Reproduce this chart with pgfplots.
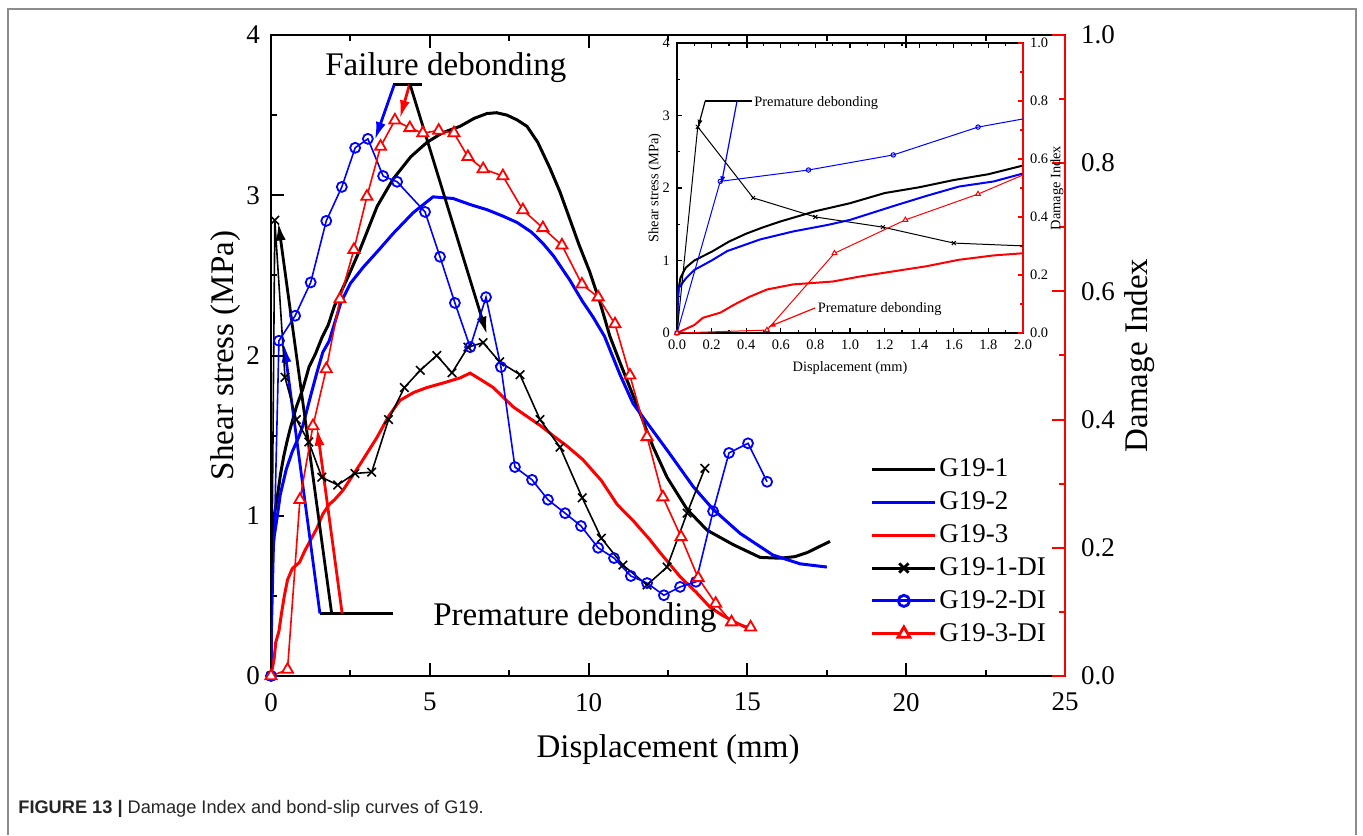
\documentclass[border=0pt]{standalone}
\usepackage{pgfplots}
\pgfplotsset{compat=1.18}
\usepackage{pgfplotstable}
\usepackage{fontspec}
\setmainfont{Liberation Serif}
\setsansfont{Liberation Sans}
\usetikzlibrary{arrows.meta}

% ---------- stress curves (mm, MPa) ----------
\pgfplotstableread{
x y
0 0
0.005 0.45
0.01 0.62
0.02 0.76
0.05 0.9
0.1 1.0
0.2 1.12
0.3 1.26
0.4 1.37
0.5 1.46
0.6 1.54
0.8 1.68
1.0 1.79
1.2 1.93
1.4 2.01
1.6 2.11
1.8 2.19
2.0 2.31
2.4 2.48
2.8 2.66
3.34 2.93
3.84 3.10
4.4 3.24
4.91 3.33
5.4 3.39
5.95 3.43
6.4 3.48
6.8 3.51
7.1 3.515
7.43 3.50
7.75 3.47
8.06 3.43
8.4 3.33
8.78 3.17
9.1 3.02
9.41 2.85
9.7 2.69
10.04 2.52
10.36 2.33
10.67 2.12
11.0 1.95
11.2 1.85
11.62 1.64
12.03 1.43
12.47 1.24
13.1 1.04
13.73 0.91
14.55 0.82
15.4 0.74
16.03 0.735
16.5 0.745
16.88 0.77
17.6 0.84
}\gone

\pgfplotstableread{
x y
0 0
0.005 0.5
0.01 0.62
0.05 0.75
0.1 0.87
0.2 1.0
0.29 1.13
0.48 1.29
0.67 1.40
0.87 1.49
1.0 1.56
1.25 1.75
1.44 1.89
1.63 2.02
1.83 2.09
2.0 2.2
2.2 2.33
2.5 2.45
2.9 2.55
3.4 2.66
3.84 2.76
4.47 2.89
5.1 2.99
5.73 2.98
6.3 2.94
6.8 2.91
7.3 2.87
7.75 2.83
8.2 2.77
8.56 2.70
8.9 2.62
9.41 2.47
9.8 2.34
10.14 2.24
10.5 2.12
10.99 1.88
11.4 1.70
11.84 1.58
12.47 1.41
13.3 1.18
13.92 1.04
14.77 0.89
15.8 0.755
16.66 0.70
17.5 0.68
}\gtwo

\pgfplotstableread{
x y
0 0
0.1 0.11
0.15 0.21
0.25 0.28
0.33 0.39
0.42 0.5
0.52 0.6
0.67 0.67
0.9 0.71
1.06 0.78
1.25 0.85
1.44 0.92
1.63 1.01
1.83 1.07
2.0 1.1
2.27 1.16
2.8 1.32
3.34 1.49
3.7 1.62
4.06 1.72
4.5 1.77
4.91 1.80
5.45 1.83
5.95 1.86
6.27 1.89
6.6 1.85
7.0 1.80
7.62 1.68
8.06 1.62
8.5 1.56
8.88 1.50
9.35 1.43
9.82 1.35
10.4 1.22
10.9 1.07
11.4 0.97
11.93 0.85
12.25 0.77
12.88 0.62
13.4 0.52
13.82 0.43
14.2 0.38
14.67 0.33
15.1 0.29
}\gthree

% ---------- damage index (mm, DI) ----------
\pgfplotstableread{
x y
0 0
0.12 0.711
0.44 0.466
0.8 0.40
1.19 0.365
1.6 0.31
2.1 0.298
2.64 0.316
3.17 0.318
3.7 0.40
4.2 0.45
4.7 0.477
5.22 0.50
5.7 0.473
6.2 0.513
6.68 0.52
7.2 0.49
7.84 0.47
8.47 0.40
9.1 0.357
9.8 0.278
10.4 0.215
11.08 0.173
11.84 0.142
12.47 0.17
13.1 0.254
13.66 0.324
}\dione

\pgfplotstableread{
x y
0 0
0.25 0.523
0.76 0.562
1.25 0.614
1.74 0.71
2.23 0.763
2.65 0.824
3.05 0.838
3.53 0.78
3.97 0.771
4.85 0.724
5.32 0.654
5.79 0.582
6.27 0.513
6.77 0.591
7.24 0.482
7.68 0.326
8.22 0.306
8.72 0.275
9.26 0.254
9.76 0.234
10.3 0.20
10.8 0.184
11.33 0.156
11.84 0.145
12.37 0.126
12.88 0.139
13.38 0.147
13.92 0.257
14.42 0.348
15.02 0.363
15.62 0.303
}\ditwo

\pgfplotstableread{
x y
0 0
0.52 0.01
0.91 0.275
1.32 0.39
1.74 0.479
2.17 0.588
2.61 0.665
3.02 0.748
3.45 0.826
3.9 0.867
4.37 0.855
4.78 0.847
5.28 0.851
5.76 0.847
6.2 0.81
6.68 0.791
7.3 0.78
7.93 0.727
8.56 0.699
9.16 0.672
9.79 0.611
10.3 0.591
10.83 0.549
11.3 0.469
11.84 0.373
12.34 0.279
12.91 0.217
13.45 0.153
14.0 0.113
14.5 0.084
15.1 0.076
}\dithree

\newcommand{\tickfont}{\fontsize{13.5}{16}\selectfont}
\newcommand{\labfont}{\fontsize{16.5}{20}\selectfont}
\newcommand{\insfont}{\fontsize{7.2}{8.5}\selectfont}

\pgfplotsset{
  mainbase/.style={
    at={(135.5pt,79.5pt)}, anchor=south west,
    scale only axis, width=397pt, height=320.5pt,
    xmin=0, xmax=25,
    tick align=inside,
    major tick length=6.5pt, minor tick length=3pt,
    /pgf/number format/assume math mode=true,
    tick label style={font=\tickfont},
  },
  insbase/.style={
    at={(338.5pt,251pt)}, anchor=south west,
    scale only axis, width=173pt, height=145pt,
    xmin=0, xmax=2,
    tick align=inside,
    major tick length=2.6pt, minor tick length=1.4pt,
    /pgf/number format/assume math mode=true,
    tick label style={font=\insfont},
  },
}

\begin{document}
\begin{tikzpicture}
\useasboundingbox (0,0) rectangle (681.5pt,417.5pt);
\draw[black!45, line width=0.6pt] (4pt,0pt) -- (4pt,413pt) -- (678pt,413pt) -- (678pt,0pt);
\node[anchor=base west, inner sep=0pt, font=\fontsize{9.1}{11}\sffamily, text=black!85] at (9pt,11pt)
  {\textbf{FIGURE 13 |} Damage Index and bond-slip curves of G19.};

% ===== main: shear stress =====
\begin{axis}[mainbase,
  ymin=0, ymax=4,
  xtick={0,5,10,15,20,25}, minor xtick={2.5,7.5,12.5,17.5,22.5},
  ytick={0,1,2,3,4}, minor ytick={0.5,1.5,2.5,3.5},
  xtick pos=both, xticklabel pos=bottom, ytick pos=left,
  axis line style={line width=1.2pt},
  every tick/.style={black, line width=1pt},
  yticklabel style={xshift=-2pt},
  xticklabel style={yshift=-5pt},
  xlabel={Displacement (mm)}, ylabel={Shear stress (MPa)},
  every axis x label/.style={at={(rel axis cs:0.5,0)}, anchor=center, yshift=-37pt, font=\labfont},
  every axis y label/.style={at={(rel axis cs:0,0.5)}, xshift=-22.5pt, rotate=90, anchor=center, font=\labfont},
]
\addplot[black, line width=1.5pt] table {\gone};
\addplot[blue, line width=1.5pt] table {\gtwo};
\addplot[red, line width=1.5pt] table {\gthree};
% annotations
\draw[black, line width=1.4pt] (axis cs:3.84,3.69) -- (axis cs:4.75,3.69);
\draw[blue, line width=1.4pt, -{Latex[length=9pt,width=5pt]}] (axis cs:3.88,3.69) -- (axis cs:3.27,3.345);
\draw[red, line width=1.4pt, -{Latex[length=9pt,width=5pt]}] (axis cs:4.36,3.69) -- (axis cs:4.06,3.48);
\draw[black, line width=1.4pt, -{Latex[length=9pt,width=5pt]}] (axis cs:4.38,3.69) -- (axis cs:6.8,2.13);
\draw[black, line width=1.4pt] (axis cs:1.54,0.39) -- (axis cs:3.84,0.39);
\draw[blue, line width=1.4pt, -{Latex[length=9pt,width=5pt]}] (axis cs:1.54,0.39) -- (axis cs:0.41,2.07);
\draw[black, line width=1.4pt, -{Latex[length=9pt,width=5pt]}] (axis cs:1.91,0.39) -- (axis cs:0.23,2.83);
\draw[red, line width=1.4pt, -{Latex[length=9pt,width=5pt]}] (axis cs:2.24,0.39) -- (axis cs:1.45,1.55);
\node[anchor=base west, inner sep=0pt, font=\labfont] at (axis cs:1.70,3.75) {Failure debonding};
\node[anchor=base west, inner sep=0pt, font=\labfont] at (axis cs:5.10,0.318) {Premature debonding};
\end{axis}

% ===== main: damage index =====
\begin{axis}[mainbase,
  ymin=0, ymax=1,
  axis x line=none, axis y line*=right,
  y axis line style={red, line width=1.2pt, -},
  ytick={0,0.2,0.4,0.6,0.8,1.0}, minor ytick={0.1,0.3,0.5,0.7,0.9},
  every tick/.style={red, line width=1pt},
  yticklabel style={/pgf/number format/fixed, /pgf/number format/fixed zerofill, /pgf/number format/precision=1, xshift=4.5pt},
  ylabel={Damage Index},
  every axis y label/.style={at={(rel axis cs:1,0.5)}, xshift=37.5pt, rotate=90, anchor=center, font=\labfont},
  legend style={at={(rel axis cs:0.755,0.343)}, anchor=north west, draw=none, fill=none,
    inner sep=0pt, font=\tickfont, row sep=3.6pt, column sep=0pt,
    nodes={inner sep=1.2pt, anchor=west}},
  legend image code/.code={\draw[mark repeat=2,mark phase=2,#1] plot coordinates {(0pt,0pt) (15.75pt,0pt) (31.5pt,0pt)};},
]
\addlegendimage{black, line width=1.5pt}
\addlegendentry{G19-1}
\addlegendimage{blue, line width=1.5pt}
\addlegendentry{G19-2}
\addlegendimage{red, line width=1.5pt}
\addlegendentry{G19-3}
\addlegendimage{black, line width=1.5pt, mark=x, mark size=3.3pt, mark options={line width=1.4pt}}
\addlegendentry{G19-1-DI}
\addlegendimage{blue, line width=1.5pt, mark=o, mark size=2.8pt, mark options={fill=white, line width=1.4pt}}
\addlegendentry{G19-2-DI}
\addlegendimage{red, line width=1.5pt, mark=triangle*, mark size=3.4pt, mark options={fill=white, line width=1.4pt}}
\addlegendentry{G19-3-DI}
\addplot[forget plot, black, line width=0.8pt, mark=x, mark size=3pt, mark options={line width=0.8pt}] table {\dione};
\addplot[forget plot, blue, line width=0.8pt, mark=o, mark size=2.5pt, mark options={fill=white, line width=0.9pt}] table {\ditwo};
\addplot[forget plot, red, line width=0.8pt, mark=triangle*, mark size=3.2pt, mark options={fill=white, line width=0.9pt}] table {\dithree};
\end{axis}

% ===== inset: shear stress =====
\begin{axis}[insbase,
  ymin=0, ymax=4,
  xtick={0,0.2,0.4,0.6,0.8,1.0,1.2,1.4,1.6,1.8,2.0},
  minor xtick={0.1,0.3,0.5,0.7,0.9,1.1,1.3,1.5,1.7,1.9},
  ytick={0,1,2,3,4}, minor ytick={0.5,1.5,2.5,3.5},
  xtick pos=both, xticklabel pos=bottom, ytick pos=left,
  xticklabel style={/pgf/number format/fixed, /pgf/number format/fixed zerofill, /pgf/number format/precision=1},
  axis line style={line width=0.7pt},
  every tick/.style={black, line width=0.6pt},
  xlabel={Displacement (mm)}, ylabel={Shear stress (MPa)},
  every axis x label/.style={at={(rel axis cs:0.5,0)}, anchor=center, yshift=-17.5pt, font=\insfont},
  every axis y label/.style={at={(rel axis cs:0,0.5)}, xshift=-11pt, rotate=90, anchor=center, font=\insfont},
]
\addplot[black, line width=1pt] table {\gone};
\addplot[blue, line width=1pt] table {\gtwo};
\addplot[red, line width=1pt] table {\gthree};
\draw[black, line width=0.6pt] (axis cs:0.162,3.2) -- (axis cs:0.434,3.2);
\draw[black, line width=0.6pt, -{Latex[length=4pt,width=2.5pt]}] (axis cs:0.163,3.2) -- (axis cs:0.121,2.83);
\draw[blue, line width=0.6pt, -{Latex[length=4pt,width=2.5pt]}] (axis cs:0.347,3.2) -- (axis cs:0.256,2.05);
\draw[red, line width=0.6pt, -{Latex[length=4pt,width=2.5pt]}] (axis cs:0.798,0.345) -- (axis cs:0.523,0.078);
\node[anchor=base west, inner sep=0pt, font=\insfont] at (axis cs:0.445,3.13) {Premature debonding};
\node[anchor=base west, inner sep=0pt, font=\insfont] at (axis cs:0.812,0.276) {Premature debonding};
\end{axis}

% ===== inset: damage index =====
\begin{axis}[insbase,
  ymin=0, ymax=1,
  axis x line=none, axis y line*=right,
  y axis line style={red, line width=0.7pt, -},
  ytick={0,0.2,0.4,0.6,0.8,1.0}, minor ytick={0.1,0.3,0.5,0.7,0.9},
  every tick/.style={red, line width=0.6pt},
  yticklabel style={/pgf/number format/fixed, /pgf/number format/fixed zerofill, /pgf/number format/precision=1},
  ylabel={Damage Index},
  every axis y label/.style={at={(rel axis cs:1,0.5)}, xshift=17pt, rotate=90, anchor=center, font=\insfont},
]
\addplot[black, line width=0.5pt, mark=x, mark size=1.4pt, mark options={line width=0.5pt}] table {\dione};
\addplot[blue, line width=0.5pt, mark=o, mark size=1.1pt, mark options={fill=white, line width=0.5pt}] table {\ditwo};
\addplot[red, line width=0.5pt, mark=triangle*, mark size=1.4pt, mark options={fill=white, line width=0.5pt}] table {\dithree};
\end{axis}
\end{tikzpicture}
\end{document}
